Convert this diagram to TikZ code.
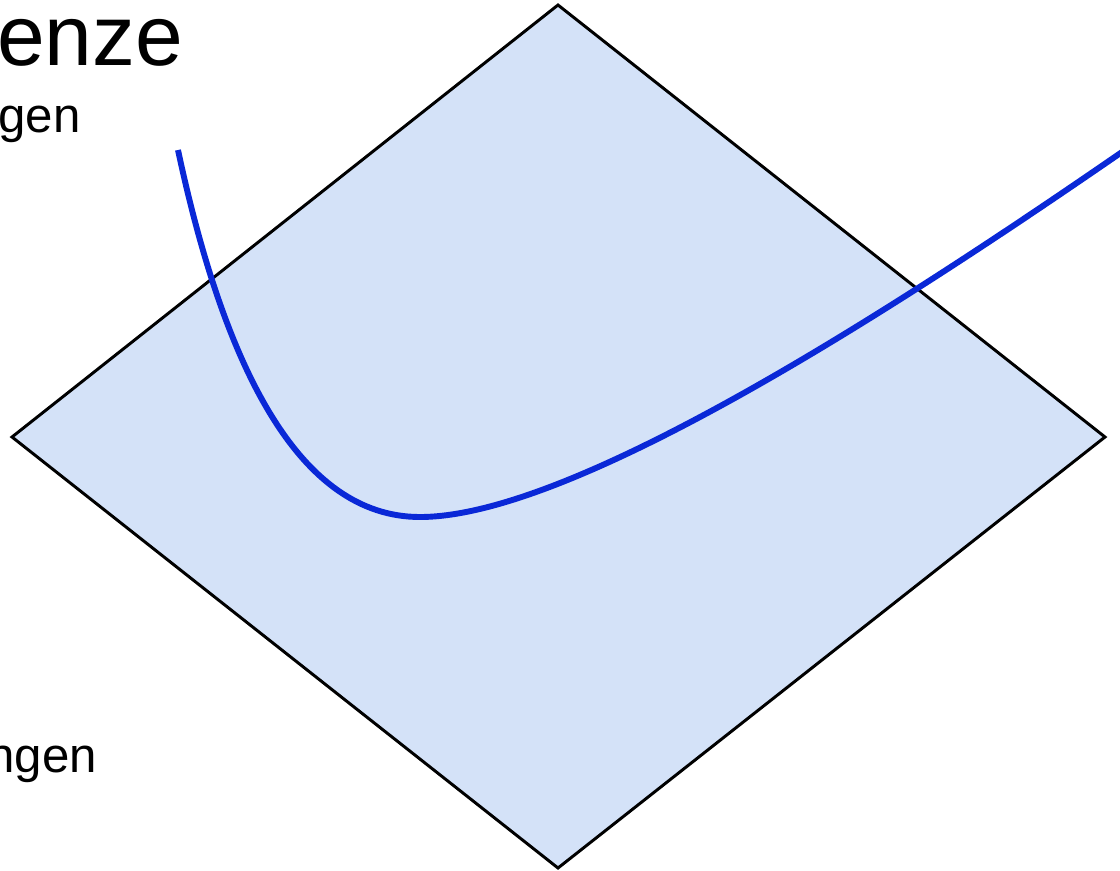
\documentclass[tikz,border=0pt]{standalone}
\usepackage{fontspec}
\setmainfont{Liberation Sans}
\definecolor{planefill}{RGB}{212,226,248}
\definecolor{curveblue}{RGB}{10,40,215}
\begin{document}
\begin{tikzpicture}[x=0.025cm,y=-0.025cm,
  plane/.style={draw=black,line width=2.1pt,fill=planefill,line join=miter},
  curve/.style={draw=curveblue,line width=4.2pt},
  bigtext/.style={anchor=base west,inner sep=0pt,font=\fontsize{61}{62}\selectfont},
  smalltext/.style={anchor=base west,inner sep=0pt,font=\fontsize{35}{36}\selectfont}]
\clip (0,0) rectangle (1120,870);
\coordinate (T) at (558,5);
\coordinate (L) at (12,437);
\coordinate (R) at (1105,437);
\coordinate (B) at (558,868);
\coordinate (C0) at (178,150);
\coordinate (C1) at (420,517);
\coordinate (C2) at (1122,152);
\draw[plane] (T) -- (R) -- (B) -- (L) -- cycle;
\draw[curve] (C0) .. controls (225,370) and (300,517) .. (C1)
  .. controls (575,517) and (900,305) .. (C2);
\node[bigtext] (t1) at (-3,65) {enze};
\node[smalltext] (t2) at (-2,132) {gen};
\node[smalltext] (t3) at (-13,772) {ngen};
\end{tikzpicture}
\end{document}
